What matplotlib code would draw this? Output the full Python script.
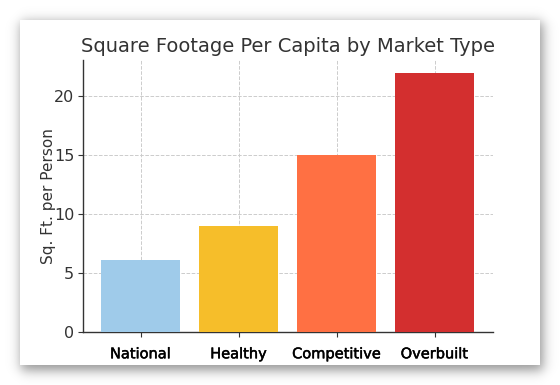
import matplotlib
matplotlib.use("Agg")
import numpy as np
import matplotlib.pyplot as plt
from matplotlib.patches import Rectangle
import matplotlib.patheffects as pe

categories = ["National", "Healthy", "Competitive", "Overbuilt"]
values = [6.1, 9, 15, 22]
colors = ["#9fcbea", "#f6be2a", "#ff7043", "#d32f2f"]
yticks = [0, 5, 10, 15, 20]

W, H = 560, 385
fig = plt.figure(figsize=(W / 100, H / 100), dpi=100)
fig.patch.set_facecolor("white")

# card geometry (pixels, top-down)
cx0, cy0, cx1, cy1 = 20, 20, 540, 364.5

# soft shadow via blurred mask
xs = np.arange(W) + 0.5
ys = np.arange(H) + 0.5
s = 7.0
fx = 0.5 * (np.tanh((xs - (cx0 + 1)) / s) - np.tanh((xs - (cx1 + 3)) / s))
fy = 0.5 * (np.tanh((ys - (cy0 + 2)) / s) - np.tanh((ys - (cy1 + 6)) / s))
alpha = 0.42 * np.outer(fy, fx)
img = np.zeros((H, W, 4))
img[..., 3] = alpha
fig.figimage(img, xo=0, yo=0, origin="upper", zorder=0)

card = Rectangle((cx0 / W, 1 - cy1 / H), (cx1 - cx0) / W, (cy1 - cy0) / H,
                 transform=fig.transFigure, facecolor="white",
                 edgecolor="none", zorder=1)
fig.patches.append(card)

ax = fig.add_axes([82.7 / W, 1 - 331.7 / H, (492.5 - 82.7) / W, (331.7 - 60) / H])
ax.set_facecolor("none")
ax.set_zorder(2)
ax.bar(categories, values, color=colors, width=0.8, zorder=3)
ax.set_yticks(yticks)
ax.grid(True, linestyle="--", color="#cccccc", linewidth=0.7, zorder=0)
ax.set_axisbelow(True)
for sp in ["top", "right"]:
    ax.spines[sp].set_visible(False)
for sp in ["left", "bottom"]:
    ax.spines[sp].set_color("#333333")
    ax.spines[sp].set_linewidth(1.0)
ax.set_title("Square Footage Per Capita by Market Type", fontsize=14,
             color="#333333", pad=6)
ax.set_ylabel("Sq. Ft. per Person", fontsize=11, color="#333333")
ax.yaxis.set_label_coords((56 - 82.7) / (492.5 - 82.7), 0.5)
ax.tick_params(axis="y", labelsize=11.5, colors="#333333", length=3.5, pad=2.5)
ax.tick_params(axis="x", length=3.5, colors="#333333", pad=7)
for lbl in ax.get_xticklabels():
    lbl.set_fontsize(10.5)
    lbl.set_color("black")
    lbl.set_path_effects([pe.withStroke(linewidth=0.35, foreground="black")])

fig.savefig("out.png", dpi=100)
